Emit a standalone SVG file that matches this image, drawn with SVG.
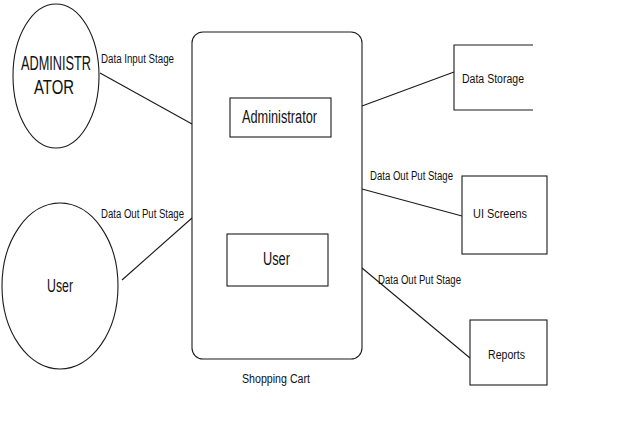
<svg xmlns="http://www.w3.org/2000/svg" width="625" height="430" viewBox="0 0 625 430">
<style>
.s{fill:none;stroke:#1a1a1a;stroke-width:1.1}
.w{fill:#fff;stroke:#1a1a1a;stroke-width:1.1}
text{font-family:"Liberation Sans",Arial,sans-serif;fill:#111}
.lb{font-size:12px}
.nd{font-size:18px}
</style>
<rect width="625" height="430" fill="#fff"/>
<g id="connectors">
<line class="s" x1="100" y1="73" x2="192" y2="124"/>
<line class="s" x1="122" y1="280" x2="192" y2="218"/>
<line class="s" x1="362" y1="106" x2="454" y2="72"/>
<line class="s" x1="362" y1="189" x2="462" y2="216"/>
<line class="s" x1="362" y1="268" x2="470" y2="358"/>
<text class="lb" x="101" y="63" textLength="73" lengthAdjust="spacingAndGlyphs">Data Input Stage</text>
<text class="lb" x="101" y="218" textLength="83" lengthAdjust="spacingAndGlyphs">Data Out Put Stage</text>
<text class="lb" x="370" y="180" textLength="83" lengthAdjust="spacingAndGlyphs">Data Out Put Stage</text>
<text class="lb" x="378" y="284" textLength="83" lengthAdjust="spacingAndGlyphs">Data Out Put Stage</text>
</g>
<g id="administrator-actor">
<ellipse class="w" cx="56" cy="76" rx="43" ry="72"/>
<text transform="translate(21,70) scale(1,1.5)" x="0" y="0" font-size="13" textLength="70" lengthAdjust="spacingAndGlyphs">ADMINISTR</text>
<text transform="translate(34,94) scale(1,1.5)" x="0" y="0" font-size="13" textLength="40" lengthAdjust="spacingAndGlyphs">ATOR</text>
</g>
<g id="user-actor">
<ellipse class="w" cx="60" cy="286" rx="58" ry="83"/>
<text class="nd" x="47" y="292" font-size="20" textLength="26" lengthAdjust="spacingAndGlyphs">User</text>
</g>
<g id="shopping-cart">
<rect class="w" x="192" y="32" width="170" height="327" rx="11"/>
<text class="lb" x="242" y="383" font-size="13" textLength="68" lengthAdjust="spacingAndGlyphs">Shopping Cart</text>
</g>
<g id="administrator-module">
<rect class="w" x="230" y="98" width="101" height="39"/>
<text class="nd" x="242" y="123" textLength="75" lengthAdjust="spacingAndGlyphs">Administrator</text>
</g>
<g id="user-module">
<rect class="w" x="227" y="234" width="101" height="52"/>
<text class="nd" x="263" y="265" textLength="27" lengthAdjust="spacingAndGlyphs">User</text>
</g>
<g id="data-storage">
<path class="s" d="M533,45 H454 V110 H533"/>
<text class="lb" x="462" y="83" font-size="14" textLength="62" lengthAdjust="spacingAndGlyphs">Data Storage</text>
</g>
<g id="ui-screens">
<rect class="w" x="462" y="176" width="85" height="78"/>
<text class="lb" x="473" y="218" font-size="14" textLength="54" lengthAdjust="spacingAndGlyphs">UI Screens</text>
</g>
<g id="reports">
<rect class="w" x="470" y="320" width="77" height="65"/>
<text class="lb" x="488" y="359" font-size="14" textLength="37" lengthAdjust="spacingAndGlyphs">Reports</text>
</g>
</svg>
